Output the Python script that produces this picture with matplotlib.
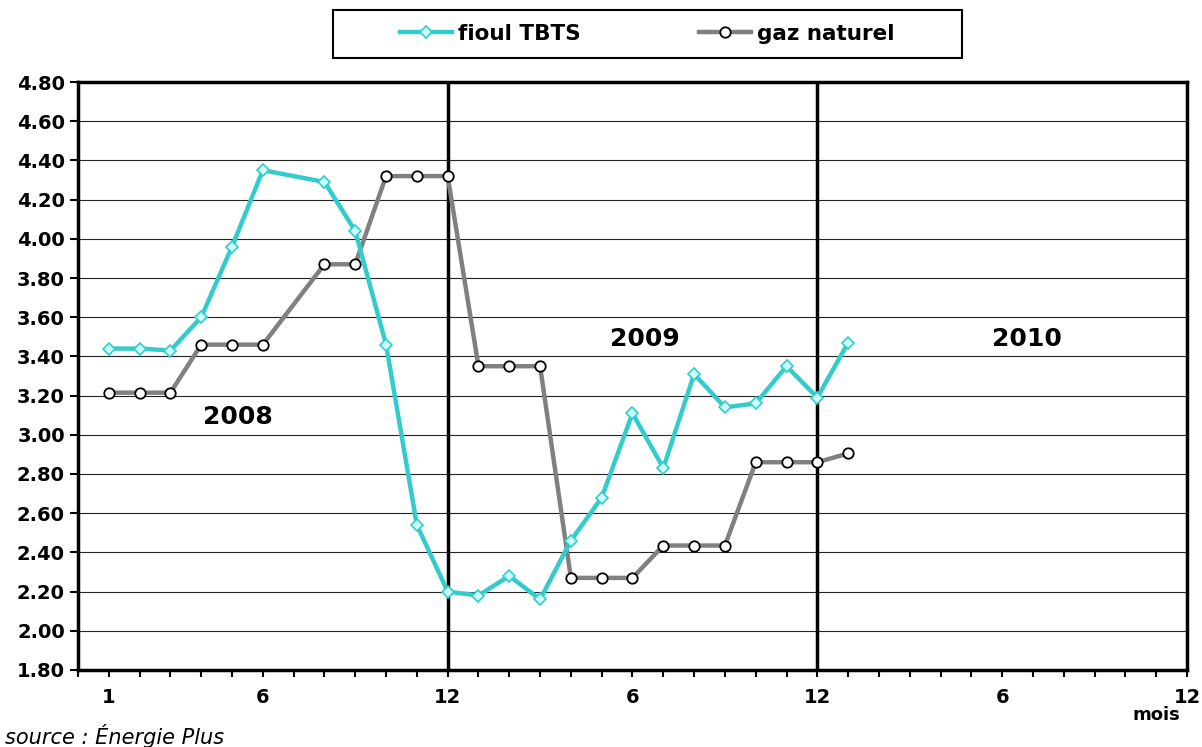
"""Prix du fioul TBTS et du gaz naturel, 2008-2010."""

from matplotlib import pyplot as plt
from matplotlib.patches import Rectangle
from matplotlib.ticker import FixedLocator, MultipleLocator
import numpy as np

# months counted from January 2008 (month 7 of 2008 has no value)
months = [1, 2, 3, 4, 5, 6, 8, 9, 10, 11, 12,
          13, 14, 15, 16, 17, 18, 19, 20, 21, 22, 23, 24, 25]

fioul = [3.44, 3.44, 3.43, 3.60, 3.96, 4.35, 4.29, 4.04, 3.46, 2.54, 2.20,
         2.18, 2.28, 2.16, 2.46, 2.68, 3.11, 2.83, 3.31, 3.14, 3.16, 3.35,
         3.19, 3.47]

gaz = [3.215, 3.215, 3.215, 3.46, 3.46, 3.46, 3.87, 3.87, 4.32, 4.32, 4.32,
       3.35, 3.35, 3.35, 2.27, 2.27, 2.27, 2.435, 2.435, 2.435, 2.86, 2.86,
       2.86, 2.905]

tick_pos = [1, 6, 12, 18, 24, 30, 36]
tick_labels = ["1", "6", "12", "6", "12", "6", "12"]
year_breaks = [12, 24]
years = {"2008": (5.2, 3.09), "2009": (18.4, 3.49), "2010": (30.8, 3.49)}

fioul_color = "#33CCCC"
gaz_color = "#808080"

fig = plt.figure(figsize=(12.02, 7.47), dpi=100)
ax = fig.add_axes([0.0649, 0.1031, 0.9226, 0.7871])

ax.set_xlim(0, 36)
ax.set_ylim(1.8, 4.8)

ax.grid(axis="y", color="#222222", linewidth=0.8)
ax.set_axisbelow(True)

for xb in year_breaks:
    ax.axvline(xb, color="black", linewidth=2.5, zorder=2)

ax.plot(months, gaz, color=gaz_color, linewidth=3.2, marker="o",
        markersize=7.5, markerfacecolor="white", markeredgecolor="black",
        markeredgewidth=1.3, label="gaz naturel", zorder=3)
ax.plot(months, fioul, color=fioul_color, linewidth=3.2, marker="D",
        markersize=6, markerfacecolor="#CCFFFF", markeredgecolor=fioul_color,
        markeredgewidth=1.2, label="fioul TBTS", zorder=4)

for name, (xt, yt) in years.items():
    ax.text(xt, yt, name, fontsize=18, fontweight="bold", ha="center",
            va="center")

for side in ["left", "right", "top", "bottom"]:
    ax.spines[side].set_linewidth(2.5)

ax.xaxis.set_major_locator(FixedLocator(tick_pos))
ax.set_xticklabels(tick_labels)
ax.xaxis.set_minor_locator(MultipleLocator(1))
ax.tick_params(axis="x", which="both", direction="out", length=5, width=1.5,
               pad=8, labelsize=14)
ax.tick_params(axis="y", direction="out", length=6, width=1.5, labelsize=14)
yticks = np.arange(1.8, 4.81, 0.2)
ax.set_yticks(yticks)
ax.set_yticklabels(["%.2f" % v for v in yticks])
for lab in ax.get_xticklabels() + ax.get_yticklabels():
    lab.set_fontweight("bold")

handles, labels = ax.get_legend_handles_labels()
leg = fig.legend(handles[::-1], labels[::-1], loc="center",
                 bbox_to_anchor=(0.5387, 0.9545), ncol=2, frameon=False,
                 prop={"size": 15.5, "weight": "bold"}, handlelength=2.4,
                 handletextpad=0.3, columnspacing=5.5)
fig.patches.append(Rectangle((333 / 1202, 1 - 58 / 747), 629 / 1202,
                             48 / 747, transform=fig.transFigure,
                             fill=False, edgecolor="black", linewidth=1.5))

fig.text(1180 / 1202, 1 - 715 / 747, "mois", fontsize=13, fontweight="bold",
         ha="right", va="center")
fig.text(5 / 1202, 1 - 736 / 747, "source : Énergie Plus", fontsize=15,
         style="italic", ha="left", va="center")

fig.savefig("out.png", dpi=100)
